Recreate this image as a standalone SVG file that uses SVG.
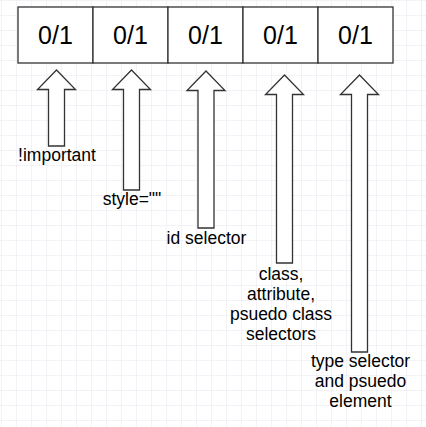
<svg xmlns="http://www.w3.org/2000/svg" width="426" height="427" viewBox="0 0 426 427">
<defs>
<pattern id="grid" x="1" y="0" width="15" height="15" patternUnits="userSpaceOnUse">
<path d="M0 0H15M0 0V15" fill="none" stroke="#e6e6f0" stroke-width="1"/>
</pattern>
<style>
.cell{fill:#fff;stroke:#333;stroke-width:1.3}
.num{font-family:"Liberation Sans",Arial,sans-serif;font-size:25px;fill:#000;text-anchor:middle}
.arrow{fill:#fff;stroke:#333;stroke-width:1.3;stroke-linejoin:miter}
.lbl{font-family:"Liberation Sans",Arial,sans-serif;font-size:17.5px;fill:#000;text-anchor:middle}
</style>
</defs>
<rect width="426" height="427" fill="#fff"/>
<rect width="426" height="427" fill="url(#grid)"/>
<g id="cells">
<g id="cell1"><rect class="cell" x="18" y="7" width="75" height="56"/><text class="num" x="55.5" y="44">0/1</text></g>
<g id="cell2"><rect class="cell" x="93" y="7" width="75" height="56"/><text class="num" x="130.5" y="44">0/1</text></g>
<g id="cell3"><rect class="cell" x="168" y="7" width="75" height="56"/><text class="num" x="205.5" y="44">0/1</text></g>
<g id="cell4"><rect class="cell" x="243" y="7" width="75" height="56"/><text class="num" x="280.5" y="44">0/1</text></g>
<g id="cell5"><rect class="cell" x="318" y="7" width="75" height="56"/><text class="num" x="355.5" y="44">0/1</text></g>
</g>
<g id="connectors">
<path class="arrow" d="M56.5 70L75.5 89.5H64.5V146H48.5V89.5H37.5Z"/>
<path class="arrow" d="M131.5 70L150.5 89.5H139.5V190H123.5V89.5H112.5Z"/>
<path class="arrow" d="M206 71L225 90.5H214V228H198V90.5H187Z"/>
<path class="arrow" d="M284.5 75L303.5 94.5H292.5V263H276.5V94.5H265.5Z"/>
<path class="arrow" d="M359.5 75L378.5 94.5H367.5V352H351.5V94.5H340.5Z"/>
</g>
<g id="label-important"><text class="lbl" x="57" y="161">!important</text></g>
<g id="label-style"><text class="lbl" x="132" y="205">style=""</text></g>
<g id="label-id"><text class="lbl" x="206.5" y="244">id selector</text></g>
<g id="label-class"><text class="lbl" x="281" y="280"><tspan x="281">class,</tspan><tspan x="281" y="300">attribute,</tspan><tspan x="281" y="320">psuedo class</tspan><tspan x="281" y="340">selectors</tspan></text></g>
<g id="label-type"><text class="lbl" x="360.5" y="367"><tspan x="360.5">type selector</tspan><tspan x="360.5" y="387">and psuedo</tspan><tspan x="360.5" y="407">element</tspan></text></g>
</svg>
